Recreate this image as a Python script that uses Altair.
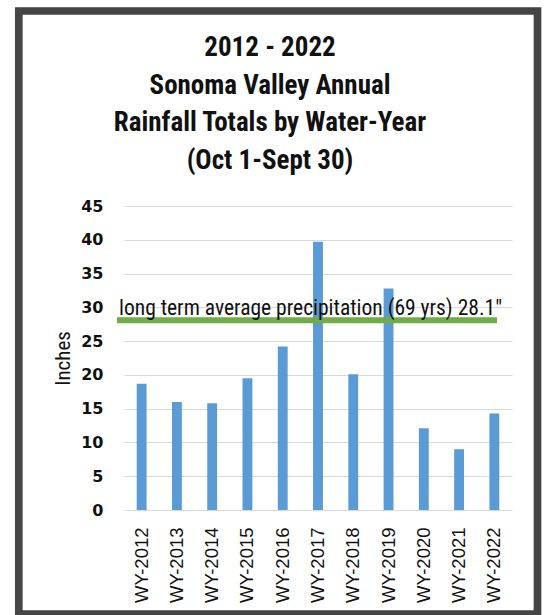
import altair as alt
import pandas as pd

# Water-year rainfall totals (inches)
water_years = ["WY-2012", "WY-2013", "WY-2014", "WY-2015", "WY-2016", "WY-2017",
               "WY-2018", "WY-2019", "WY-2020", "WY-2021", "WY-2022"]
rainfall_in = [18.7, 16.0, 15.8, 19.5, 24.2, 39.7, 20.1, 32.8, 12.1, 9.0, 14.3]

long_term_avg = 28.1
avg_label = 'long term average precipitation (69 yrs) 28.1"'

title_lines = ["2012 - 2022", "Sonoma Valley Annual",
               "Rainfall Totals by Water-Year", "(Oct 1-Sept 30)"]
y_ticks = [0, 5, 10, 15, 20, 25, 30, 35, 40, 45]

NARROW = "Roboto Condensed, Liberation Sans Narrow, DejaVu Sans Condensed, Liberation Sans, sans-serif"

df = pd.DataFrame({"year": water_years, "rain": rainfall_in})
avg_df = pd.DataFrame({"avg": [long_term_avg], "label": [avg_label]})

y_scale = alt.Scale(domain=[0, 45], nice=False)
y_axis = alt.Axis(values=y_ticks, labelOverlap=False,
                  labelFont="DejaVu Sans", labelFontWeight="bold",
                  labelFontSize=16, labelColor="#111111", ticks=False, domain=False,
                  labelPadding=21, gridColor="#d9d9d9", gridWidth=1.2,
                  titleFont=NARROW, titleFontSize=21, titleFontWeight="normal",
                  titleColor="#111111", titlePadding=7)

x_enc = alt.X(
    "year:N", sort=water_years, title=None,
    scale=alt.Scale(paddingInner=0.72, paddingOuter=0.36),
    axis=alt.Axis(labelAngle=-90, labelFont="Liberation Sans", labelFontSize=18.5,
                  labelColor="#111111", ticks=False, domain=False,
                  labelPadding=17, grid=False),
)

bars = alt.Chart(df).mark_bar(color="#5B9BD5").encode(
    x=x_enc, y=alt.Y("rain:Q", title="Inches", scale=y_scale, axis=y_axis)
)

avg_line = alt.Chart(avg_df).mark_rule(color="#70AD47", strokeWidth=6).encode(
    y=alt.Y("avg:Q", title="Inches", scale=y_scale, axis=y_axis),
    x=alt.value(-7), x2=alt.value(373)
)

avg_text = alt.Chart(avg_df).mark_text(
    align="left", baseline="alphabetic", font=NARROW, fontSize=21.5,
    color="#111111", dy=-5
).encode(y=alt.Y("avg:Q", title="Inches", scale=y_scale, axis=y_axis),
         x=alt.value(-5), text="label:N")

# four-line heading, centred over the framed area
heading = alt.Chart(avg_df).mark_text(
    text=title_lines, align="center", baseline="alphabetic", font=NARROW,
    fontSize=27, fontWeight="bold", lineHeight=37.5, color="#111111"
).encode(x=alt.value(146), y=alt.value(-150))

# dark outer border around the whole graphic
frame = alt.Chart(avg_df).mark_rect(
    filled=False, stroke="#454545", strokeWidth=7.7
).encode(x=alt.value(-105.2), x2=alt.value(413.5),
         y=alt.value(-195), y2=alt.value(408))

chart = alt.layer(bars, avg_line, avg_text, heading, frame).properties(
    width=388, height=304,
    background="white",
    autosize=alt.AutoSizeParams(type="none"),
    padding={"left": 124, "top": 206, "right": 34, "bottom": 105},
).configure_view(strokeWidth=0)

chart.save("out.html", embed_options={"renderer": "svg", "actions": False})
